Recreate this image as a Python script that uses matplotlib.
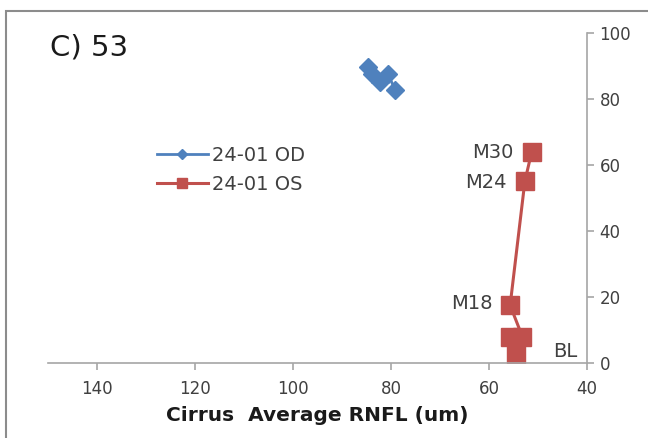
import matplotlib.pyplot as plt
from matplotlib.patches import Rectangle

# Cirrus average RNFL (um) vs. time point
od_rnfl = [84.6, 83.8, 82.2, 80.6, 79.2]
od_y = [89.7, 87.5, 85.0, 87.6, 82.7]

os_rnfl = [54.6, 55.8, 53.2, 55.7, 52.7, 51.3]
os_y = [2.5, 8.0, 8.0, 17.5, 55.0, 64.0]
os_labels = ['BL', '', '', 'M18', 'M24', 'M30']

xticks = [140, 120, 100, 80, 60, 40]
yticks = [0, 20, 40, 60, 80, 100]

blue = '#4F81BD'
red = '#C0504D'
grey = '#A6A6A6'
txt = '#404040'

plt.rcParams['font.family'] = ['DejaVu Sans']

fig = plt.figure(figsize=(6.48, 4.38), dpi=100)
ax = fig.add_axes([0.074, 0.171, 0.832, 0.754])

ax.plot(od_rnfl, od_y, color=blue, lw=2, marker='D', ms=9, label='24-01 OD')
ax.plot(os_rnfl, os_y, color=red, lw=2.2, marker='s', ms=13, label='24-01 OS')

# time point labels next to the OS markers
offsets = {'BL': (38, 3, 'left'), 'M18': (-18, 2, 'right'),
           'M24': (-18, -1, 'right'), 'M30': (-18, -1, 'right')}
for x, y, lab in zip(os_rnfl, os_y, os_labels):
    if not lab:
        continue
    dx, dy, ha = offsets[lab]
    ax.annotate(lab, (x, y), xytext=(dx, dy), textcoords='offset pixels',
                ha=ha, va='center', fontsize=14, color=txt)

ax.set_xlim(150, 40)
ax.set_ylim(0, 100)
ax.set_xticks(xticks)
ax.set_yticks(yticks)
ax.yaxis.tick_right()

for side in ['left', 'top']:
    ax.spines[side].set_visible(False)
for side in ['bottom', 'right']:
    ax.spines[side].set_color(grey)
    ax.spines[side].set_linewidth(1.2)
ax.tick_params(colors=grey, labelcolor=txt, labelsize=12, length=5, width=1.2)
ax.tick_params(axis='x', pad=7)
ax.tick_params(axis='y', pad=4)

ax.set_xlabel('Cirrus  Average RNFL (um)', fontsize=14.5, fontweight='bold',
              color='#1a1a1a', labelpad=6)

ax.text(0.003, 0.955, 'C) 53', transform=ax.transAxes, fontsize=21,
        color='#1a1a1a', va='center', ha='left')

ax.legend(loc='upper left', bbox_to_anchor=(0.17, 0.71), frameon=False,
          fontsize=14, handlelength=2.6, markerscale=0.6, labelspacing=0.5,
          labelcolor=txt, handletextpad=0.2)

# grey frame around the chart area
fig.patches.append(Rectangle((0.009, -0.1), 1.2, 1.074, transform=fig.transFigure,
                             fill=False, edgecolor='#8c8c8c', lw=1.5))

fig.savefig('out.png', dpi=100)
